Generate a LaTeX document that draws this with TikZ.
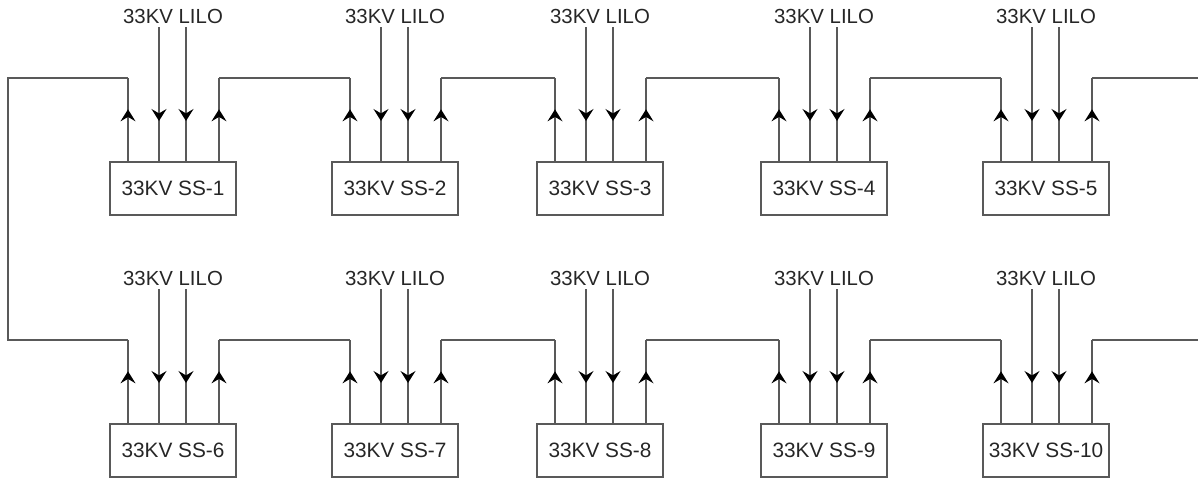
\documentclass[tikz,border=0pt]{standalone}
\usepackage{fontspec}
\setmainfont{Liberation Sans}
\usetikzlibrary{arrows.meta,decorations.markings}

\tikzset{
  feedtip/.tip={Stealth[length=6pt,width=7.5pt,inset=2.2pt,color=black]},
  tie/.style={draw=black!65, line width=0.7pt},
  ssbox/.style={tie, minimum width=63pt, minimum height=26.5pt, inner sep=0pt,
    text=black!85, font=\fontsize{10.4}{12}\selectfont},
  lilolbl/.style={inner sep=0pt, text=black!85, font=\fontsize{10.2}{12}\selectfont},
  upflow/.style={tie, postaction={decorate},
    decoration={markings, mark=at position 26pt with {\arrow{feedtip}}}},
  downflow/.style={tie, postaction={decorate},
    decoration={markings, mark=at position 47pt with {\arrow{feedtip}}}}
}

\begin{document}
\begin{tikzpicture}[x=0.5pt,y=-0.5pt]
  \useasboundingbox (0,0) rectangle (1198,478);

  % substations, two rows of five
  \foreach \n/\L/\R in {1/110/0, 2/332/0, 3/537/0, 4/761/0, 5/983/0,
                        6/110/262, 7/332/262, 8/537/262, 9/761/262, 10/983/262} {
    \node[ssbox] (ss\n) at (\L+63,188.5+\R) {33KV SS-\n};
    \node[lilolbl] (lbl\n) at (\L+63,16+\R) {33KV LILO};
    \coordinate (lo\n) at (\L+18,78+\R);
    \coordinate (ro\n) at (\L+109,78+\R);
    \coordinate (li\n) at (\L+49,27+\R);
    \coordinate (ri\n) at (\L+76,27+\R);
    \draw[upflow] (ss\n.north -| lo\n) -- (lo\n);
    \draw[upflow] (ss\n.north -| ro\n) -- (ro\n);
    \draw[downflow] (li\n) -- (li\n |- ss\n.north);
    \draw[downflow] (ri\n) -- (ri\n |- ss\n.north);
  }

  % ring between neighbours
  \foreach \a/\b in {1/2, 2/3, 3/4, 4/5, 6/7, 7/8, 8/9, 9/10}
    \draw[tie] (ro\a) -- (lo\b);

  \coordinate (west) at (8,200);
  \coordinate (edgeA) at (1198,78);
  \coordinate (edgeB) at (1198,340);
  \draw[tie] (lo1) -| (west) |- (lo6);
  \draw[tie] (ro5) -- (edgeA);
  \draw[tie] (ro10) -- (edgeB);
\end{tikzpicture}
\end{document}
